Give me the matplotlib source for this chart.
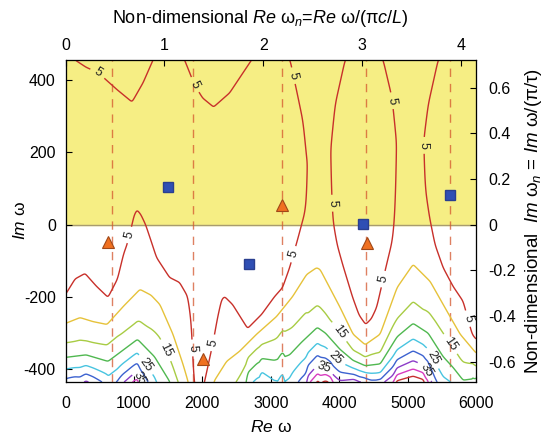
import numpy as np
import matplotlib
matplotlib.use("Agg")
import matplotlib.pyplot as plt

plt.rcParams['font.family'] = ['Liberation Sans', 'DejaVu Sans']
plt.rcParams['axes.unicode_minus'] = False
plt.rcParams['mathtext.fontset'] = 'custom'
plt.rcParams['mathtext.rm'] = 'Liberation Sans'
plt.rcParams['mathtext.it'] = 'Liberation Sans:italic'

# traced contour lines (values beyond the frame are guesses)
# level 5, lower branch (700 = no 5-line in that column)
line5_x = [0, 140, 285, 450, 621, 760, 850, 899, 972, 1000, 1044, 1100, 1170, 1250, 1330,
           1520, 1667, 1786, 1842, 1860, 1875, 1950, 2033, 2100, 2156, 2222, 2281, 2325,
           2442, 2661, 2866, 3055, 3172, 3275, 3392, 3450, 3501, 3530, 3545, 3560, 3850,
           3867, 3885, 3900, 3969, 4050, 4196, 4290, 4386, 4470, 4547, 4680, 4773, 4803,
           4825, 4846, 4860, 5210, 5227, 5256, 5320, 5400, 5519, 5665, 5811, 5943, 6000]
line5_y = [-193, -150, -135, -170, -201, -150, -80, -55, 0, 25, 41, 28, 0, -45, -91,
           -146, -160, -199, -276, -367, -433, -500, -433, -375, -326, -257, -207, -199,
           -221, -287, -248, -199, -174, -119, -41, 0, 36, 90, 146, 700, 700,
           193, 110, 20, -55, -110, -201, -250, -276, -260, -229, -120, -47, 0,
           80, 213, 700, 700, 221, 102, 20, -55, -119, -171, -212, -303, -317]
# level 5, upper branch hanging from the top edge
top5_x = [0, 139, 300, 475, 753, 972, 1133, 1279, 1500, 1740, 1886, 2003, 2164, 2398,
          2719, 3000, 3282, 3400, 3472, 3545, 3867, 3940, 4086, 4386, 4642, 4773, 4846,
          5227, 5300, 5446, 5700, 6000]
top5_y = [510, 455, 435, 420, 373, 339, 392, 455, 540, 455, 386, 350, 325, 364,
          455, 540, 455, 350, 284, 146, 193, 331, 455, 540, 455, 350, 213,
          221, 331, 455, 540, 560]
# level 10
line10_x = [0, 212, 400, 606, 850, 1088, 1250, 1380, 1570, 1717, 1790, 1870, 1950, 2050,
            2170, 2354, 2544, 2792, 3084, 3318, 3523, 3670, 3721, 4013, 4203, 4379, 4598,
            4846, 5080, 5329, 5577, 5768, 6000]
line10_y = [-273, -257, -268, -276, -225, -179, -195, -221, -303, -386, -433, -500, -560, -520,
            -433, -378, -350, -303, -254, -199, -138, -119, -124, -229, -303, -332, -303,
            -174, -110, -157, -240, -303, -355]
# level 20
line20_x = [0, 300, 621, 1052, 1300, 1520, 1700, 1950, 2200, 2442, 2661, 2866, 3055, 3275,
            3450, 3680, 3800, 4013, 4200, 4380, 4600, 4846, 5080, 5300, 5519, 5665, 5811, 6000]
line20_y = [-367, -360, -378, -317, -365, -433, -520, -680, -580, -510, -430, -370, -375, -360,
            -325, -284, -300, -345, -375, -390, -385, -310, -273, -300, -365, -395, -430, -425]

label_levels = [5, 15, 25, 35]
label_colors = ['#c8302a', '#a8cc44', '#48c4e0', '#8c3cc8']
other_levels = [10, 20, 30, 40, 45]
other_colors = ['#e6c23a', '#50b850', '#3c62d0', '#d83cc0', '#c83030']

dashed_x = [684, 1868, 3170, 4393, 5621]
square_x = [1499, 2685, 4349, 5621]
square_y = [103, -108, 1, 81]
tri_x = [621, 2008, 3165, 4408]
tri_y = [-48, -372, 54, -51]

label_pos = [(475, 420), (1886, 386), (3340, 412), (3877, 59), (4792, 343), (5231, 219),
             (943, -29), (1845, -341), (2161, -327), (3370, -84), (4696, -153), (5816, -263),
             (1479, -346), (3940, -305), (5573, -337),
             (1211, -382), (3916, -374), (5377, -368),
             (1064, -426), (3780, -400), (5281, -401)]

XMAX, YMIN, YMAX = 6000, -435, 455
XN = 1445.0   # pi c / L
YN = 630.6    # pi / tau


def smooth(v, sig):
    k = np.arange(-3 * sig, 3 * sig + 1)
    w = np.exp(-0.5 * (k / sig) ** 2)
    w /= w.sum()
    return np.convolve(np.pad(v, 3 * sig, mode='edge'), w, mode='valid')


# field whose 5/10/20 contours pass through the traced lines
gx = np.linspace(0, XMAX, 1201)
gy = np.linspace(YMIN, YMAX, 601)
y5 = smooth(np.interp(gx, line5_x, line5_y), 3)
y10 = smooth(np.interp(gx, line10_x, line10_y), 3)
y20 = smooth(np.interp(gx, line20_x, line20_y), 3)
yt = smooth(np.interp(gx, top5_x, top5_y), 3)

d1 = y5 - y10
d2 = y10 - y20
lo = np.full_like(gx, np.log(1e-5))
hi = np.full_like(gx, np.log(0.05))
for _ in range(60):
    mid = 0.5 * (lo + hi)
    s = np.exp(mid)
    r = np.expm1(d2 * s) / -np.expm1(-d1 * s)
    lo = np.where(r < 2.0, mid, lo)
    hi = np.where(r >= 2.0, mid, hi)
s = np.exp(0.5 * (lo + hi))
a = 5.0 / (np.exp(-y10 * s) - np.exp(-y5 * s))
m = 5.0 - a * np.exp(-y5 * s)

X, Y = np.meshgrid(gx, gy)
F_low = m + a * np.exp(-Y * s)
F_top = np.minimum(5.0 + (Y - yt) / 40.0, 8.0)
k = 0.25
big = np.maximum(F_low, F_top)
F = big + k * np.log(np.exp((F_low - big) / k) + np.exp((F_top - big) / k))

fig = plt.figure(figsize=(5.47, 4.43), dpi=100)
ax = fig.add_axes([0.1198, 0.1377, 0.7505, 0.7269])

ax.axhspan(0, YMAX, color='#f6ee84', zorder=0)
ax.axhline(0, color='#a89c70', lw=1.0, zorder=1)
for xd in dashed_x:
    ax.axvline(xd, color='#d4562e', lw=1.0, ls=(0, (6, 5)), alpha=0.75, zorder=1)

cs_other = ax.contour(X, Y, F, levels=other_levels, colors=other_colors, linewidths=1.0, zorder=2)
cs = ax.contour(X, Y, F, levels=label_levels, colors=label_colors, linewidths=1.0, zorder=2)
ax.clabel(cs, manual=label_pos, inline=True, fontsize=9, fmt='%d', colors='#222222')

ax.plot(square_x, square_y, 's', color='#2f4fb4', ms=7, mec='#2a3f90', zorder=5)
ax.plot(tri_x, tri_y, '^', color='#f07020', ms=9, mec='#a04818', mew=0.8, zorder=5)

ax.set_xlim(0, XMAX)
ax.set_ylim(YMIN, YMAX)
ax.set_xticks([0, 1000, 2000, 3000, 4000, 5000, 6000])
ax.set_yticks([-400, -200, 0, 200, 400])
ax.tick_params(direction='in', labelsize=11.5, length=4, top=False, right=False)
ax.tick_params(axis='x', pad=10)
ax.tick_params(axis='y', pad=7)
ax.set_xlabel(r'$\mathit{Re}$ ω', fontsize=12.5, labelpad=6)
ax.set_ylabel(r'$\mathit{Im}$ ω', fontsize=12.5, labelpad=-3)
for sp in ax.spines.values():
    sp.set_color('#555555')

ax2 = ax.twiny()
ax2.set_xlim(0, XMAX / XN)
ax2.set_xticks([0, 1, 2, 3, 4])
ax2.tick_params(direction='in', labelsize=11.5, length=4, pad=5)
ax2.set_xlabel(r'Non-dimensional $\mathit{Re}\ \mathrm{ω}_{\mathit{n}}$=$\mathit{Re}\ \mathrm{ω}$/(π$\mathit{c/L}$)',
               fontsize=13)
ax2.xaxis.set_label_coords(0.475, 1.115)

ax3 = ax.twinx()
ax3.set_ylim(YMIN / YN, YMAX / YN)
ax3.set_yticks([-0.6, -0.4, -0.2, 0, 0.2, 0.4, 0.6])
ax3.set_yticklabels(['-0.6', '-0.4', '-0.2', '0', '0.2', '0.4', '0.6'])
ax3.tick_params(direction='in', labelsize=11.5, length=4, pad=9)
ax3.set_ylabel(r'Non-dimensional  $\mathit{Im}\ \mathrm{ω}_{\mathit{n}}$ = $\mathit{Im}\ \mathrm{ω}$/(π/τ)',
               fontsize=13.5, labelpad=5)

fig.savefig('out.png', dpi=100)
